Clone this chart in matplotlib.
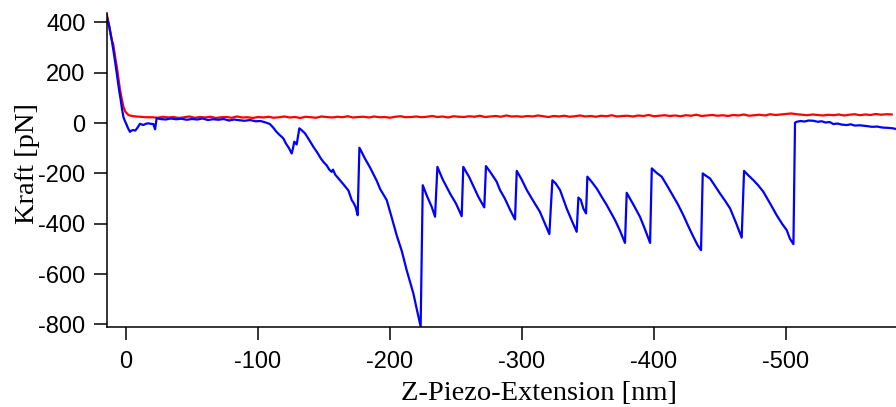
import numpy as np
import matplotlib
matplotlib.use("Agg")
import matplotlib.pyplot as plt

# Approach curve (red): steep contact region followed by the baseline
red_contact_x = [14.6, 12.5, 10.8, 9.6, 8.3, 7.0, 5.8, 4.5, 3.2, 2.0, 0.5, -1.8, -4.5, -7.5, -10.6, -15.0]
red_contact_y = [433, 380, 330, 310, 265, 224, 178, 131, 95, 65, 45, 32, 28, 26, 25, 23]
red_base_x = np.arange(-20, -584, -4)
red_base_y = [
    23, 21, 25, 22, 24, 20, 23, 26, 21, 24,
    22, 25, 20, 23, 24, 21, 26, 22, 23, 20,
    24, 22, 25, 21, 23, 26, 22, 24, 20, 25,
    23, 21, 26, 24, 22, 25, 23, 27, 22, 24,
    25, 22, 26, 23, 24, 21, 25, 27, 23, 24,
    26, 23, 25, 28, 24, 26, 22, 27, 25, 24,
    27, 25, 29, 24, 26, 28, 25, 30, 26, 27,
    25, 28, 26, 30, 27, 24, 28, 26, 29, 25,
    27, 30, 26, 28, 25, 29, 27, 31, 26, 28,
    29, 26, 30, 28, 32, 27, 29, 31, 28, 30,
    27, 31, 29, 33, 28, 30, 32, 29, 31, 28,
    32, 30, 34, 29, 31, 33, 30, 35, 32, 34,
    36, 38, 35, 33, 31, 34, 32, 30, 33, 31,
    34, 30, 33, 35, 31, 34, 32, 36, 33, 35,
    34,
]

# Retract curve (blue): sawtooth unfolding pattern
blue_x = [
    15.2, 13.0, 10.8, 9.0, 7.0, 5.5, 4.0, 3.0, 2.0, 1.0, 0.0, -1.5, -3.0, -4.0, -5.5, -7.0,
    -8.5, -10.6, -12.0, -13.1, -15.0, -16.9, -18.5, -20.7, -22.0, -23.2,
    -26, -30, -34, -38, -42, -46, -50, -54, -58, -62, -66, -70, -74, -78, -82, -86,
    -90, -94, -98, -102, -104, -107, -109, -111.5, -114, -116.5, -119.2, -121, -123.5,
    -125.5, -126.5, -127.5, -128.5, -129.3, -131.3, -133, -135.6, -138.5, -141.9, -145,
    -147.5, -149.5, -152, -154, -155.8, -156.8, -158.5, -162.1, -164.5, -167.2, -168.5,
    -171, -172.5, -174, -175.5, -176.8, -179, -181, -185, -190, -192.5, -197.5, -201,
    -205, -209, -212.6, -215, -217.7, -220.5, -223.2,
    -224.8, -228, -231.6, -234.1,
    -235.9, -240, -245.5, -250, -254.3,
    -255.5, -260, -266.9, -271.4,
    -272.7, -276, -280.8, -283.3, -287, -291, -294.7,
    -296, -299.5, -303.6, -308, -313.6, -317, -320.7,
    -323, -325.5, -328.8, -333.8, -337.5, -341.4,
    -342.7, -344.5, -346.5, -348.5,
    -349.5, -353, -356.6, -360, -364.2, -370.5, -374, -378,
    -379.3, -381.8, -385, -389.4, -393, -397,
    -398.3, -402, -405.8, -409.5, -413.4, -418, -422.2, -426, -429.8, -433, -435.6,
    -436.9, -439.5, -442.4, -446, -450, -454, -457.6, -462, -466.4,
    -468.2, -471.5, -475.3, -479, -482.8, -488, -492.9, -497, -500.5, -503, -505.6,
    -506.8, -508, -511, -514, -517, -520.7, -524, -527, -530, -533, -535.9, -539,
    -542, -546, -549, -552, -556, -561, -565, -569, -573, -577, -581, -583.5,
]
blue_y = [
    433, 390, 330, 270, 198, 140, 91, 55, 25, 10, -1, -20, -35, -30, -28, -30,
    -20, -3, -6, -8, -3, -1, -3, -4, -25, 19,
    16, 14, 18, 15, 17, 13, 16, 14, 18, 12, 15, 13, 16, 10, 14, 11,
    9, 12, 7, 8, 5, 0, -4, -18, -35, -48, -61, -80, -100,
    -121, -100, -74, -80, -85, -21, -28, -41, -65, -94, -118,
    -140, -154, -168, -185, -194, -185, -205, -227, -242, -260, -268,
    -306, -318, -335, -366, -98, -120, -141, -178, -230, -262, -306, -370,
    -445, -510, -584, -628, -677, -745, -808,
    -247, -290, -333, -372,
    -174, -225, -280, -320, -370,
    -174, -215, -293, -335,
    -171, -195, -233, -266, -300, -345, -383,
    -190, -222, -266, -305, -353, -395, -441,
    -227, -240, -266, -339, -385, -432,
    -296, -305, -340, -359,
    -213, -235, -260, -290, -326, -386, -425, -476,
    -277, -300, -330, -373, -420, -476,
    -180, -198, -213, -245, -280, -322, -366, -410, -452, -485, -505,
    -200, -210, -220, -248, -280, -310, -339, -395, -455,
    -190, -208, -227, -248, -273, -320, -366, -400, -425, -460, -481,
    1, 5, 8, 6, 10, 9, 5, 7, 2, 4, -4, -2,
    -6, -8, -5, -10, -9, -12, -15, -14, -18, -19, -21, -24,
]

x_ticks = [0, -100, -200, -300, -400, -500]
y_ticks = [400, 200, 0, -200, -400, -600, -800]

red_x = np.concatenate([red_contact_x, red_base_x])
red_y = np.concatenate([red_contact_y, red_base_y])

fig = plt.figure(figsize=(8.96, 4.07), dpi=100)
ax = fig.add_axes([107 / 896, 80 / 407, 789 / 896, 314 / 407])

ax.plot(red_x, red_y, color="#ff0000", lw=1.6, solid_joinstyle="round")
ax.plot(blue_x, blue_y, color="#0000ff", lw=1.6, solid_joinstyle="round")

ax.set_xlim(14.4, -583.3)
ax.set_ylim(-810, 437)

for side in ("top", "right"):
    ax.spines[side].set_visible(False)
for side in ("left", "bottom"):
    ax.spines[side].set_linewidth(1.1)

ax.set_xticks(x_ticks)
ax.set_yticks(y_ticks)
ax.set_xticklabels([str(v) for v in x_ticks])
ax.set_yticklabels([str(v) for v in y_ticks])
ax.tick_params(axis="both", direction="out", length=9.5, width=1.1,
               labelsize=17)
ax.tick_params(axis="x", pad=8)
ax.tick_params(axis="y", pad=6)
for lab in ax.get_xticklabels() + ax.get_yticklabels():
    lab.set_family("Liberation Sans")

xl = ax.set_xlabel("Z-Piezo-Extension [nm]", family="Liberation Serif", fontsize=20.5)
ax.xaxis.set_label_coords(0.5475, -0.2325)
xl.set_verticalalignment("baseline")

yl = ax.set_ylabel("Kraft [pN]", family="Liberation Serif", fontsize=20.5)
ax.yaxis.set_label_coords(-0.101, 0.52)
yl.set_rotation_mode("default")
yl.set_verticalalignment("center")
yl.set_horizontalalignment("center")

fig.savefig("out.png", dpi=100)
